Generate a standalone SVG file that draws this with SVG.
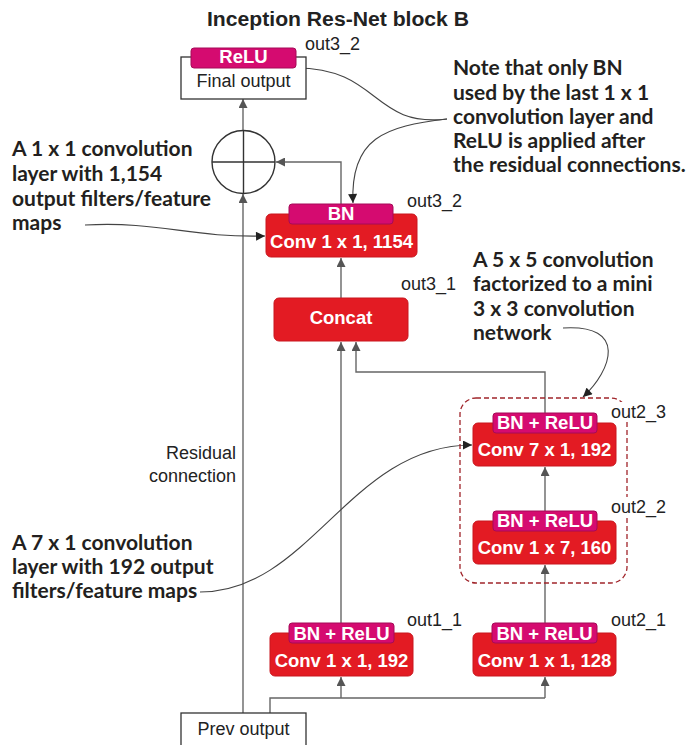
<svg xmlns="http://www.w3.org/2000/svg" width="686" height="745" viewBox="0 0 686 745">
  <defs>
    <marker id="ah" viewBox="0 0 10 10" refX="10" refY="5" markerWidth="10" markerHeight="9" markerUnits="userSpaceOnUse" orient="auto">
      <path d="M0,0 L10,5 L0,10 z" fill="#555"/>
    </marker>
    <marker id="ahk" viewBox="0 0 10 10" refX="10" refY="5" markerWidth="10" markerHeight="9" markerUnits="userSpaceOnUse" orient="auto">
      <path d="M0,0 L10,5 L0,10 z" fill="#222"/>
    </marker>
    <style>
      .title { font-family: "Liberation Sans", Arial, sans-serif; font-weight: bold; font-size: 20px; fill: #222; }
      .plain { font-family: "Liberation Sans", Arial, sans-serif; font-size: 18px; fill: #222; }
      .lbl { font-family: "Liberation Sans", Arial, sans-serif; font-size: 18px; fill: #222; }
      .btxt { font-family: "Liberation Sans", Arial, sans-serif; font-weight: bold; font-size: 18.5px; fill: #fff; text-anchor: middle; }
      .note { font-family: Lato, "DejaVu Sans Condensed", sans-serif; font-weight: bold; font-size: 21px; fill: #231f20; }
      .red { fill: #e31b23; stroke: #c9171e; stroke-width: 1; }
      .pink { fill: #d50b70; stroke: #a60a58; stroke-width: 1; }
      .box { fill: #fff; stroke: #333; stroke-width: 1.3; }
      .wire { fill: none; stroke: #666; stroke-width: 1.4; }
      .call { fill: none; stroke: #444; stroke-width: 1.1; }
    </style>
  </defs>

  <rect width="686" height="745" fill="#fff"/>

  <text class="title" x="338" y="26" text-anchor="middle" textLength="262" lengthAdjust="spacingAndGlyphs">Inception Res-Net block B</text>

  <!-- connectors -->
  <g id="connectors">
    <!-- residual path -->
    <path class="wire" d="M243,713 V194" marker-end="url(#ah)"/>
    <path class="wire" d="M243,131 V99" marker-end="url(#ah)"/>
    <!-- prev output fan-out -->
    <path class="wire" d="M270,713 V698 H545"/>
    <path class="wire" d="M341,698 V677" marker-end="url(#ah)"/>
    <path class="wire" d="M545,698 V677" marker-end="url(#ah)"/>
    <!-- branch 1 -->
    <path class="wire" d="M341,623 V342" marker-end="url(#ah)"/>
    <!-- branch 2 -->
    <path class="wire" d="M545,623 V565" marker-end="url(#ah)"/>
    <path class="wire" d="M545,511 V467" marker-end="url(#ah)"/>
    <path class="wire" d="M545,413 V372 H356 V342" marker-end="url(#ah)"/>
    <!-- concat to final conv -->
    <path class="wire" d="M341,298 V258" marker-end="url(#ah)"/>
    <path class="wire" d="M341,204 V162 H276" marker-end="url(#ah)"/>

    <!-- annotation callouts -->
    <path class="call" d="M85,225 C160,221 190,238 265,236" marker-end="url(#ahk)"/>
    <path class="call" d="M447,119 C372,128 380,68 296,68" marker-end="url(#ahk)"/>
    <path class="call" d="M447,119 C385,126 350,138 353,203" marker-end="url(#ahk)"/>
    <path class="call" d="M563,328 C628,324 612,370 583,397" marker-end="url(#ahk)"/>
    <path class="call" d="M200,592 C310,592 350,445 472,445" marker-end="url(#ahk)"/>
  </g>

  <!-- dashed grouping of the factorized 3x3 network -->
  <rect id="factorized-group" x="460" y="398" width="167" height="185" rx="16" fill="none" stroke="#a0242a" stroke-width="1.3" stroke-dasharray="5 3"/>

  <g id="final-output">
    <rect class="box" x="181" y="57" width="125" height="42"/>
    <rect class="pink" x="191" y="48" width="105" height="20" rx="3"/>
    <text class="btxt" x="243.5" y="63">ReLU</text>
    <text class="plain" x="243.5" y="87" text-anchor="middle">Final output</text>
    <text class="lbl" x="305" y="50">out3_2</text>
  </g>

  <g id="add">
    <circle cx="243.5" cy="162" r="31.5" fill="#fff" stroke="#333" stroke-width="1.4"/>
    <path d="M212,162 H275 M243.5,130.5 V193.5" stroke="#333" stroke-width="1.4"/>
  </g>

  <g id="conv-1154">
    <rect class="red" x="266" y="214" width="151" height="43" rx="5"/>
    <rect class="pink" x="289" y="204" width="104" height="20" rx="3"/>
    <text class="btxt" x="341" y="220">BN</text>
    <text class="btxt" x="341.5" y="248">Conv 1 x 1, 1154</text>
    <text class="lbl" x="407" y="207">out3_2</text>
  </g>

  <g id="concat">
    <rect class="red" x="274" y="298" width="134" height="43" rx="5"/>
    <text class="btxt" x="341" y="324">Concat</text>
    <text class="lbl" x="401" y="290">out3_1</text>
  </g>

  <g id="conv-7x1">
    <rect class="red" x="473" y="423" width="143" height="43" rx="5"/>
    <rect class="pink" x="493" y="413" width="104" height="20" rx="3"/>
    <text class="btxt" x="545" y="429">BN + ReLU</text>
    <text class="btxt" x="544.5" y="456">Conv 7 x 1, 192</text>
    <rect x="608" y="402" width="46" height="20" fill="#fff"/>
    <text class="lbl" x="611" y="418">out2_3</text>
  </g>

  <g id="conv-1x7">
    <rect class="red" x="473" y="521" width="143" height="43" rx="5"/>
    <rect class="pink" x="493" y="511" width="104" height="20" rx="3"/>
    <text class="btxt" x="545" y="527">BN + ReLU</text>
    <text class="btxt" x="544.5" y="554">Conv 1 x 7, 160</text>
    <rect x="608" y="497" width="46" height="20" fill="#fff"/>
    <text class="lbl" x="611" y="513">out2_2</text>
  </g>

  <g id="conv-1x1-192">
    <rect class="red" x="270" y="633" width="143" height="43" rx="5"/>
    <rect class="pink" x="289" y="623" width="105" height="20" rx="3"/>
    <text class="btxt" x="341.5" y="640">BN + ReLU</text>
    <text class="btxt" x="341.5" y="667">Conv 1 x 1, 192</text>
    <text class="lbl" x="407" y="626">out1_1</text>
  </g>

  <g id="conv-1x1-128">
    <rect class="red" x="473" y="633" width="143" height="43" rx="5"/>
    <rect class="pink" x="492" y="623" width="105" height="20" rx="3"/>
    <text class="btxt" x="544.5" y="640">BN + ReLU</text>
    <text class="btxt" x="544.5" y="667">Conv 1 x 1, 128</text>
    <text class="lbl" x="611" y="626">out2_1</text>
  </g>

  <g id="prev-output">
    <rect class="box" x="181" y="713" width="125" height="50"/>
    <text class="plain" x="243.5" y="735" text-anchor="middle">Prev output</text>
  </g>

  <g id="residual-label">
    <text class="plain" x="236" y="459" text-anchor="end">Residual</text>
    <text class="plain" x="236" y="482" text-anchor="end">connection</text>
  </g>

  <!-- annotations -->
  <g id="note-1x1">
    <text class="note" x="12" y="156">A 1 x 1 convolution</text>
    <text class="note" x="12" y="181">layer with 1,154</text>
    <text class="note" x="12" y="206">output filters/feature</text>
    <text class="note" x="12" y="230">maps</text>
  </g>
  <g id="note-bn">
    <text class="note" x="453" y="75">Note that only BN</text>
    <text class="note" x="453" y="100">used by the last 1 x 1</text>
    <text class="note" x="453" y="124">convolution layer and</text>
    <text class="note" x="453" y="148">ReLU is applied after</text>
    <text class="note" x="453" y="172">the residual connections.</text>
  </g>
  <g id="note-5x5">
    <text class="note" x="473" y="267">A 5 x 5 convolution</text>
    <text class="note" x="473" y="291">factorized to a mini</text>
    <text class="note" x="473" y="316">3 x 3 convolution</text>
    <text class="note" x="473" y="340">network</text>
  </g>
  <g id="note-7x1">
    <text class="note" x="12" y="550">A 7 x 1 convolution</text>
    <text class="note" x="12" y="574">layer with 192 output</text>
    <text class="note" x="12" y="598">filters/feature maps</text>
  </g>
</svg>
